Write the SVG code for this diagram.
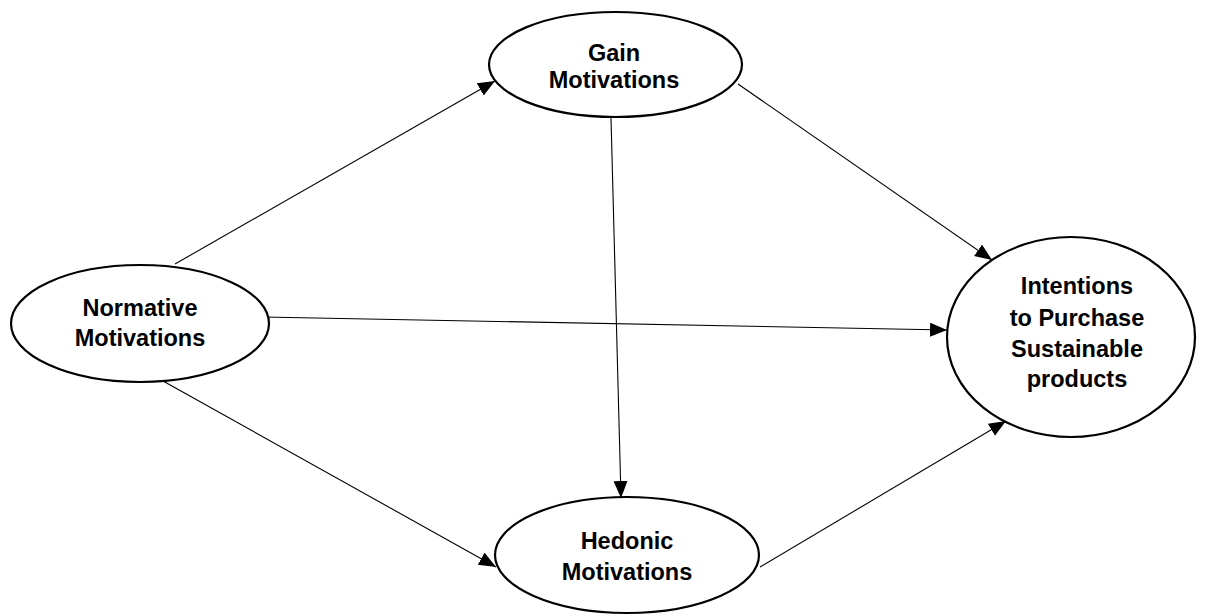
<svg xmlns="http://www.w3.org/2000/svg" width="1205" height="616" viewBox="0 0 1205 616">
<style>
.node ellipse{fill:#fff;stroke:#000;stroke-width:2.2}
.node text{font-family:"Liberation Sans",Arial,sans-serif;font-weight:bold;font-size:23.5px;fill:#000;text-anchor:middle}
.edges line{stroke:#000;stroke-width:1.1;marker-end:url(#arr)}
</style>
<defs>
<marker id="arr" markerUnits="userSpaceOnUse" markerWidth="19" markerHeight="15" refX="17" refY="7" orient="auto">
<path d="M0,0 L17,7 L0,14 z" fill="#000"/>
</marker>
</defs>
<rect width="1205" height="616" fill="#fff"/>
<g class="edges">
<line x1="175" y1="264" x2="495" y2="81"/>
<line x1="738" y1="84" x2="992" y2="260"/>
<line x1="263" y1="317" x2="947" y2="330"/>
<line x1="163" y1="381" x2="496" y2="567"/>
<line x1="611" y1="118" x2="621" y2="498"/>
<line x1="760" y1="567" x2="1006" y2="421"/>
</g>
<g id="gain" class="node">
<ellipse cx="615.5" cy="64.5" rx="126.5" ry="52.5"/>
<text x="614" y="61">Gain</text>
<text x="614" y="88">Motivations</text>
</g>
<g id="normative" class="node">
<ellipse cx="140" cy="323.5" rx="129" ry="58.5"/>
<text x="140" y="316">Normative</text>
<text x="140" y="346">Motivations</text>
</g>
<g id="intentions" class="node">
<ellipse cx="1071" cy="337" rx="124" ry="100"/>
<text x="1077" y="294">Intentions</text>
<text x="1077" y="326">to Purchase</text>
<text x="1077" y="357">Sustainable</text>
<text x="1077" y="387">products</text>
</g>
<g id="hedonic" class="node">
<ellipse cx="627" cy="555" rx="132" ry="58"/>
<text x="627" y="549">Hedonic</text>
<text x="627" y="580">Motivations</text>
</g>
</svg>
